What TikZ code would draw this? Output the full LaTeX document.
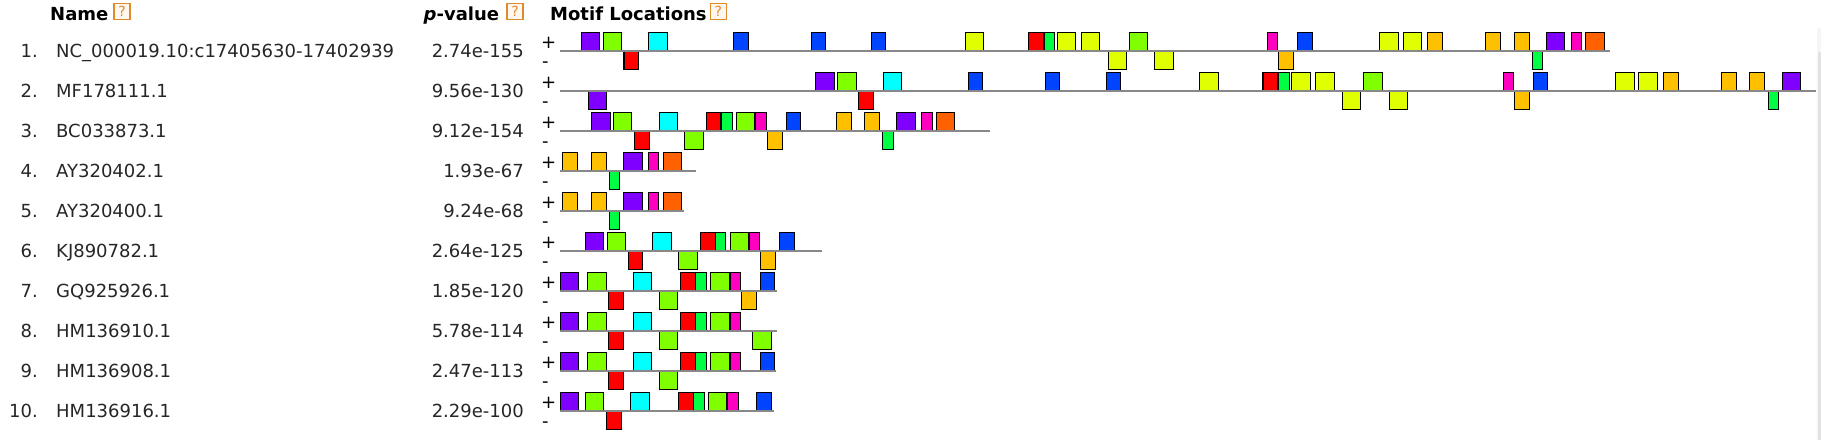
\documentclass[tikz,border=0pt]{standalone}
\usepackage{fontspec}
\setmainfont{DejaVu Sans}
\usepackage{tikz}

\definecolor{mviolet}{HTML}{8000FF}
\definecolor{mlime}{HTML}{80FF00}
\definecolor{mred}{HTML}{FF0000}
\definecolor{mcyan}{HTML}{00FFFF}
\definecolor{mblue}{HTML}{0044FF}
\definecolor{myellow}{HTML}{E0FF00}
\definecolor{mgreen}{HTML}{00FF44}
\definecolor{mpink}{HTML}{FF00C0}
\definecolor{morange}{HTML}{FFC000}
\definecolor{mrust}{HTML}{FF6000}
\definecolor{helporange}{HTML}{E08A2E}
\definecolor{seqgray}{HTML}{888888}

\tikzset{
  rowtext/.style={inner sep=0pt, text=black!85, font=\fontsize{18}{22}\selectfont},
  headtext/.style={inner sep=0pt, anchor=base west, font=\fontsize{18}{22}\selectfont\bfseries},
  helpicon/.style={draw=helporange, line width=1.3pt, fill=orange!6, inner sep=0pt,
    minimum width=16pt, minimum height=16pt, text=helporange, font=\fontsize{14}{14}\selectfont},
  motifbox/.style={draw=black, line width=1.2pt},
  seqline/.style={draw=seqgray, line width=2pt},
}

% boxes of one sequence: #1 line y, #2 boxes above (+), #3 boxes below (-)
\newcommand{\motifrow}[3]{%
  \foreach \a/\b/\c in {#2} \filldraw[motifbox,fill=\c] (\a,#1-18.5) rectangle (\b,#1);
  \foreach \a/\b/\c in {#3} \filldraw[motifbox,fill=\c] (\a,#1) rectangle (\b,#1+18.5);
}

\begin{document}
\begin{tikzpicture}[x=1pt,y=-1pt]
	\useasboundingbox[fill=white] (0,0) rectangle (1821,440);
	% Column headers
	\node[headtext] (hname) at (50,20) {Name};
	\node[helpicon] (qname) at (122,11.5) {?};
	\node[headtext,anchor=base east] (hpval) at (499.3,20) {\textit{p}-value};
	\node[helpicon] (qpval) at (515,11.5) {?};
	\node[headtext] (hloc) at (550,20) {Motif Locations};
	\node[helpicon] (qloc) at (718.3,11.5) {?};
	% Sequence names, p-values and strands
	\foreach \n/\nm/\pv in {1/NC\_000019.10:c17405630-17402939/2.74e-155, 2/MF178111.1/9.56e-130,
	    3/BC033873.1/9.12e-154, 4/AY320402.1/1.93e-67, 5/AY320400.1/9.24e-68, 6/KJ890782.1/2.64e-125,
	    7/GQ925926.1/1.85e-120, 8/HM136910.1/5.78e-114, 9/HM136908.1/2.47e-113, 10/HM136916.1/2.29e-100}{
	  \node[rowtext,anchor=base east] (num\n) at (38,{57.3+40*(\n-1)}) {\n.};
	  \node[rowtext,anchor=base west] (name\n) at (56,{57.3+40*(\n-1)}) {\nm};
	  \node[rowtext,anchor=base east] (pval\n) at (524,{57.3+40*(\n-1)}) {\pv};
	  \node[inner sep=0pt,anchor=base west,font=\fontsize{18}{22}\selectfont] (plus\n) at (541,{48+40*(\n-1)}) {+};
	  \node[inner sep=0pt,anchor=base west,font=\fontsize{18}{22}\selectfont] (minus\n) at (542,{67+40*(\n-1)}) {-};
	}
	% Motif sites
	\motifrow{51}{581.3/599.7/mviolet, 603.3/621.3/mlime, 648.7/667.3/mcyan, 733.3/748.3/mblue, 811.3/825.7/mblue,
	    871.3/885.7/mblue, 965.3/983.7/myellow, 1028.3/1044/mred, 1044/1054.7/mgreen, 1057.3/1075.7/myellow,
	    1081.3/1099.7/myellow, 1129.3/1147.7/mlime, 1267.2/1277.5/mpink, 1297.2/1312.6/mblue, 1379.5/1398.8/myellow,
	    1403.5/1421.7/myellow, 1427.4/1442.5/morange, 1485.4/1500.8/morange, 1514.4/1529.8/morange,
	    1546.2/1564.5/mviolet, 1571.3/1581.6/mpink, 1585.2/1604.5/mrust}
	  {624/638.7/mred, 1108.3/1126.7/myellow, 1154.7/1173.3/myellow, 1278.2/1293.6/morange, 1532.3/1542.6/mgreen}
	\motifrow{91}{815.3/834.7/mviolet, 837.3/856.3/mlime, 883.3/901.7/mcyan, 968.3/982.7/mblue, 1045.3/1059.7/mblue,
	    1106.3/1120.7/mblue, 1199.3/1218.3/myellow, 1262.9/1277.9/mred, 1277.9/1289.7/mgreen, 1291.5/1310.8/myellow,
	    1315.5/1334.8/myellow, 1363.4/1382.7/mlime, 1503.3/1513.7/mpink, 1533.3/1547.7/mblue, 1615.3/1634.6/myellow,
	    1638.5/1657.5/myellow, 1663.2/1678.6/morange, 1721.2/1736.6/morange, 1749.4/1764.5/morange, 1782.4/1800.6/mviolet}
	  {588.3/606.7/mviolet, 858.3/873.7/mred, 1342.3/1360.5/myellow, 1389.5/1407.8/myellow, 1514.4/1529.8/morange,
	    1768.4/1778.8/mgreen}
	\motifrow{131}{591.3/610.7/mviolet, 613.3/631.3/mlime, 659.3/677.3/mcyan, 706.3/721/mred, 721/732.3/mgreen,
	    736.3/754.3/mlime, 755.7/766.7/mpink, 786.3/800.7/mblue, 836.3/851.3/morange, 864.3/879.3/morange,
	    896.7/915.3/mviolet, 921.3/932.7/mpink, 936.3/954.3/mrust}
	  {634.3/649.7/mred, 684.3/703.3/mlime, 767.3/782.3/morange, 882.7/893.3/mgreen}
	\foreach \ly in {171,211}{
	  \motifrow{\ly}{562.3/577.3/morange, 591.3/606.3/morange, 623.3/642.3/mviolet, 648.3/658.3/mpink, 663.3/681.3/mrust}
	    {609.3/619.3/mgreen}
	}
	\motifrow{251}{585.3/603.3/mviolet, 607.3/625.3/mlime, 652.7/671.3/mcyan, 700.3/715.3/mred, 715.3/725.7/mgreen,
	    730.3/749/mlime, 749/759.3/mpink, 779.3/794.3/mblue}
	  {628.3/642.3/mred, 678.7/697.3/mlime, 760.7/775.7/morange}
	\motifrow{291}{560.3/578.3/mviolet, 587.7/606.3/mlime, 633.7/651.3/mcyan, 680.3/695.3/mred, 695.3/706.3/mgreen,
	    710.3/730/mlime, 730/740.3/mpink, 760.3/774.7/mblue}
	  {608.3/623.3/mred, 659.3/677.3/mlime, 741.7/756.7/morange}
	\motifrow{331}{560.3/578.3/mviolet, 587.7/606.3/mlime, 633.7/651.3/mcyan, 680.3/695.3/mred, 695.3/706.3/mgreen,
	    710.3/730/mlime, 730/740.3/mpink}
	  {608.3/623.3/mred, 659.3/677.3/mlime, 752.3/771.3/mlime}
	\motifrow{371}{560.3/578.3/mviolet, 587.7/606.3/mlime, 633.7/651.3/mcyan, 680.3/695.3/mred, 695.3/706.3/mgreen,
	    710.3/730/mlime, 730/740.3/mpink, 760.3/774.7/mblue}
	  {608.3/623.3/mred, 659.3/677.3/mlime}
	\motifrow{411}{560.3/578.3/mviolet, 585.3/603.3/mlime, 630.3/649.3/mcyan, 678.3/693.3/mred, 693.3/704.3/mgreen,
	    708.3/726.7/mlime, 727.3/738.3/mpink, 756.3/771.3/mblue}
	  {606.3/621.3/mred}
	% Sequence lines
	\foreach \n/\e in {1/1609.6, 2/1816, 3/990, 4/695.7, 5/683.7, 6/821.7, 7/776.7, 8/776.7, 9/775.7, 10/773.7}{
	  \coordinate (s\n) at (560,{51+40*(\n-1)});
	  \coordinate (e\n) at (\e,{51+40*(\n-1)});
	  \draw[seqline] (s\n) -- (e\n);
	}
	% Scroll bar at the right edge
	\fill[gray!8] (1817,28) rectangle (1821,440);
	\fill[gray!22] (1817.5,52) rectangle (1821,440);
\end{tikzpicture}
\end{document}
